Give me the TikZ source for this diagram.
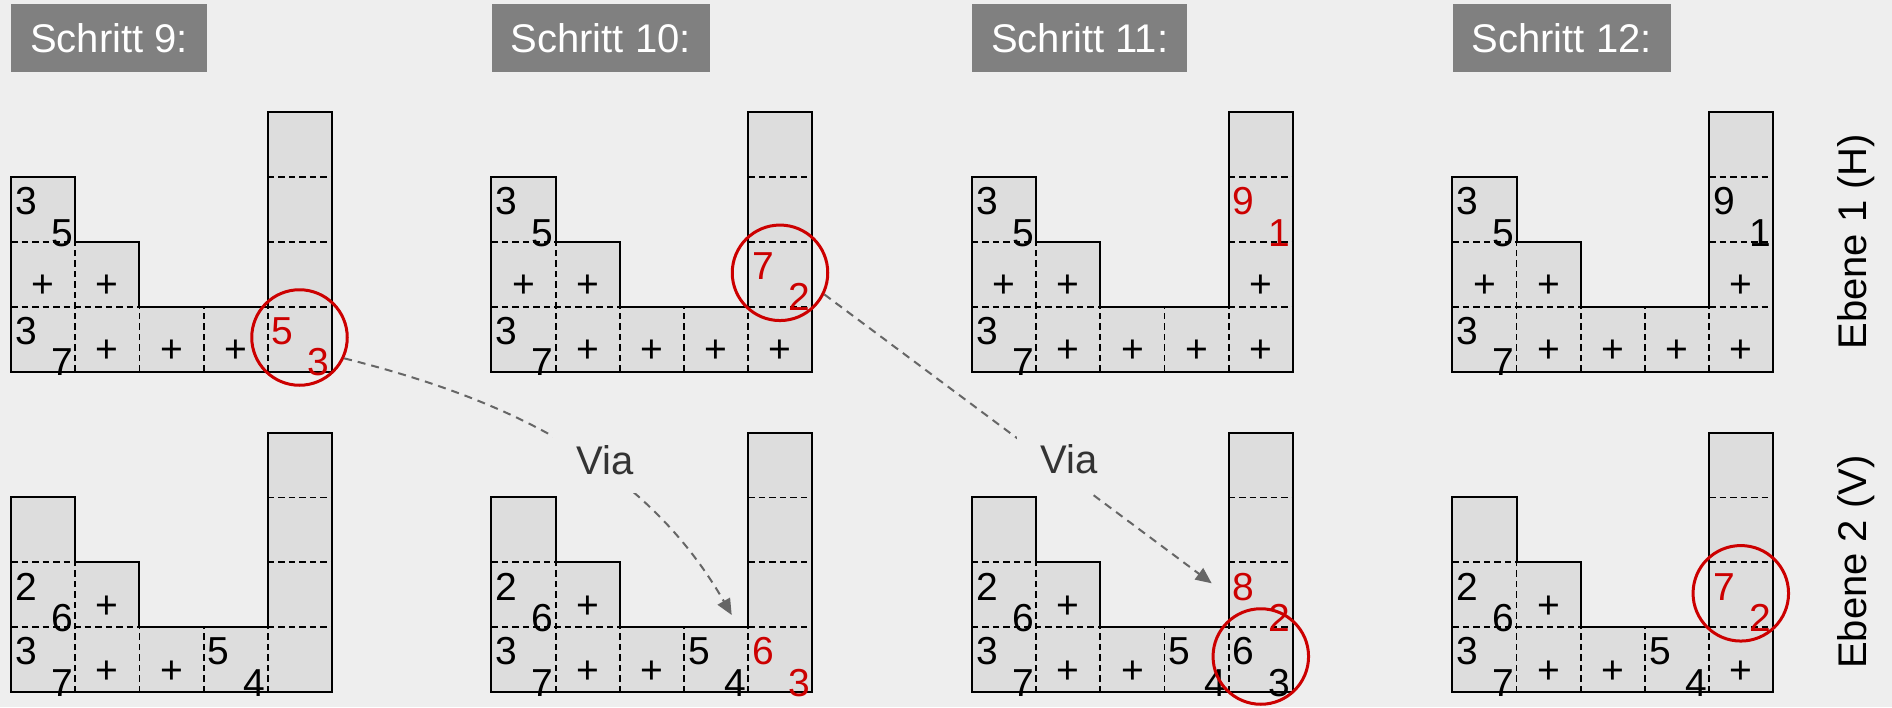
\documentclass[tikz,border=0pt]{standalone}
\usepackage{fontspec}
\setmainfont{Liberation Sans}
\usetikzlibrary{arrows.meta}
\definecolor{bg}{HTML}{EEEEEE}
\definecolor{cellfill}{HTML}{DDDDDD}
\definecolor{titlebg}{HTML}{808080}
\definecolor{myred}{HTML}{CC0000}
\definecolor{arrowgray}{HTML}{666666}
\definecolor{viatext}{HTML}{333333}
\tikzset{
  outline/.style={draw=black,line width=2pt,line join=miter},
  inner/.style={draw=black,line width=1.8pt,dash pattern=on 6.5pt off 4pt},
  num/.style={inner sep=0pt,anchor=base,font=\fontsize{39}{44}\selectfont},
  titlebox/.style={fill=titlebg,text=white,inner xsep=19pt,inner ysep=0pt,minimum height=68pt,anchor=north west,font=\fontsize{40}{46}\selectfont},
  ebene/.style={rotate=90,inner sep=0pt,font=\fontsize{40}{46}\selectfont},
  mark circle/.style={circle,draw=myred,line width=3pt,minimum size=95.5pt,inner sep=0pt},
  viaarrow/.style={draw=arrowgray,line width=2pt,dash pattern=on 8pt off 6pt,-{Triangle[length=16pt,width=14pt]}},
  vialabel/.style={fill=bg,text=viatext,minimum width=104pt,minimum height=66pt,inner sep=0pt,font=\fontsize{40}{46}\selectfont},
}
\newcommand{\gridshape}{%
  \fill[cellfill] (0,0) -- (5,0) -- (5,4) -- (4,4) -- (4,1) -- (2,1) -- (2,2) -- (1,2) -- (1,3) -- (0,3) -- cycle;
  \draw[inner] (0,1) -- (2,1) (0,2) -- (1,2) (4,1) -- (5,1) (4,2) -- (5,2) (4,3) -- (5,3)
               (1,0) -- (1,2) (2,0) -- (2,1) (3,0) -- (3,1) (4,0) -- (4,1);
  \draw[outline] (0,0) -- (5,0) -- (5,4) -- (4,4) -- (4,1) -- (2,1) -- (2,2) -- (1,2) -- (1,3) -- (0,3) -- cycle;
}
\newcommand{\pr}[5][black]{%
  \node[num,text=#1] (\pname-#2-#3-a) at ({#2+0.234},{#3+0.417}) {#4};
  \node[num,text=#1] (\pname-#2-#3-b) at ({#2+0.795},{#3-0.065}) {#5};
}
\newcommand{\pl}[2]{%
  \node[num] (\pname-#1-#2-p) at ({#1+0.5},{#2+0.136}) {+};
}
\newcommand{\upperbase}{\pr{0}{2}{3}{5}\pl{0}{1}\pl{1}{1}\pr{0}{0}{3}{7}\pl{1}{0}\pl{2}{0}\pl{3}{0}}
\newcommand{\lowerbase}{\pr{0}{1}{2}{6}\pl{1}{1}\pr{0}{0}{3}{7}\pl{1}{0}\pl{2}{0}\pr{3}{0}{5}{4}}
\newcommand{\panel}[4]{%
  \begin{scope}[shift={(#1,#2)},x=64.2pt,y=64.85pt]
    \def\pname{#3}
    \gridshape
    #4
  \end{scope}
}
\begin{document}
\begin{tikzpicture}[x=1pt,y=-1pt]
  \fill[bg] (0,0) rectangle (1892,707);
  \useasboundingbox (0,0) rectangle (1892,707);
  % titles
  \node[titlebox] (t9) at (11,4) {Schritt 9:};
  \node[titlebox] (t10) at (491.45,4) {Schritt 10:};
  \node[titlebox] (t11) at (971.9,4) {Schritt 11:};
  \node[titlebox] (t12) at (1452.35,4) {Schritt 12:};
  % panels
  \panel{11}{371.5}{pAu}{\upperbase\pr[myred]{4}{0}{5}{3}}
  \panel{11}{692}{pAl}{\lowerbase}
  \panel{491.45}{371.5}{pBu}{\upperbase\pl{4}{0}\pr[myred]{4}{1}{7}{2}}
  \panel{491.45}{692}{pBl}{\lowerbase\pr[myred]{4}{0}{6}{3}}
  \panel{971.9}{371.5}{pCu}{\upperbase\pl{4}{0}\pl{4}{1}\pr[myred]{4}{2}{9}{1}}
  \panel{971.9}{692}{pCl}{\lowerbase\pr{4}{0}{6}{3}\pr[myred]{4}{1}{8}{2}}
  \panel{1452.35}{371.5}{pDu}{\upperbase\pl{4}{0}\pl{4}{1}\pr{4}{2}{9}{1}}
  \panel{1452.35}{692}{pDl}{\lowerbase\pl{4}{0}\pr[myred]{4}{1}{7}{2}}
  % circles
  \node[mark circle] (c1) at (299.5,337.5) {};
  \node[mark circle] (c2) at (780,272.8) {};
  \node[mark circle] (c3) at (1260.8,656.5) {};
  \node[mark circle] (c4) at (1740.8,593.3) {};
  % via arrows
  \coordinate (tip1) at (731.7,615);
  \coordinate (tip2) at (1211.7,583.3);
  \draw[viaarrow] (c1.-25) .. controls (490,395) and (640,455) .. (tip1);
  \draw[viaarrow] (c2.-26) -- (tip2);
  \node[vialabel] (v1) at (605,460) {Via};
  \node[vialabel] (v2) at (1069,459.5) {Via};
  % layer labels
  \node[ebene] (e1) at (1856.3,241.7) {Ebene 1 (H)};
  \node[ebene] (e2) at (1856.3,562) {Ebene 2 (V)};
\end{tikzpicture}
\end{document}
